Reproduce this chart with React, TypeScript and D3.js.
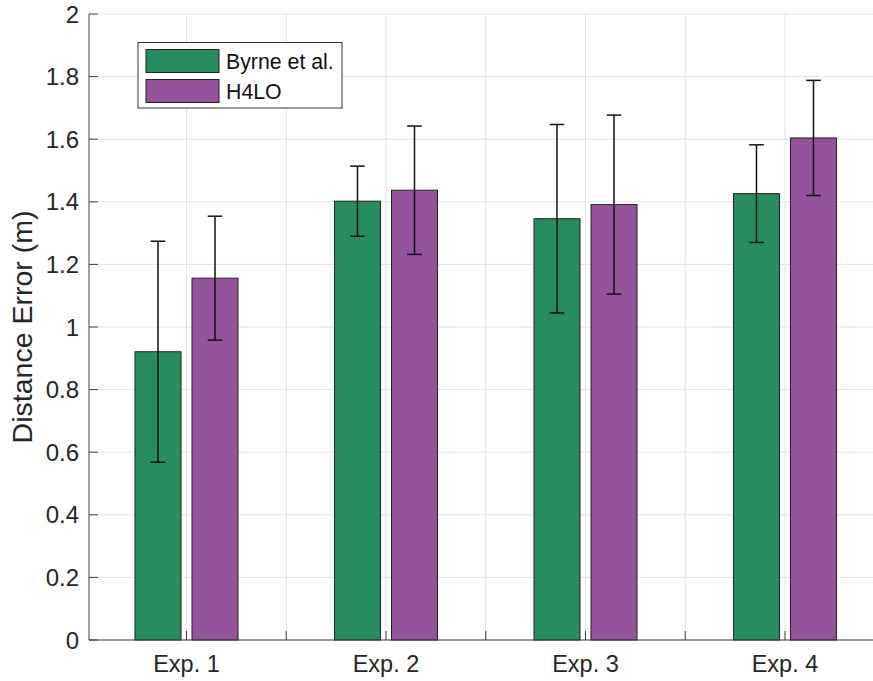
import React from "react";
import * as d3 from "d3";

const categories = ["Exp. 1", "Exp. 2", "Exp. 3", "Exp. 4"];
const seriesNames = ["Byrne et al.", "H4LO"];
const byrneMean = [0.921, 1.402, 1.346, 1.426];
const byrneErr = [0.353, 0.112, 0.301, 0.156];
const h4loMean = [1.156, 1.437, 1.391, 1.604];
const h4loErr = [0.198, 0.205, 0.286, 0.184];
const yTicks = [0, 0.2, 0.4, 0.6, 0.8, 1, 1.2, 1.4, 1.6, 1.8, 2];
const xTicks = [1, 1.5, 2, 2.5, 3, 3.5, 4, 4.5];

const colors = ["#288C61", "#94539A"];
const W = 873;
const H = 681;
const FONT = "'Liberation Sans', Arial, Helvetica, sans-serif";

export default function App() {
  const left = 89;
  const bottom = 640;
  const top = 14;
  const x = d3.scaleLinear().domain([0.5113, 4.5]).range([left, left + 3.9887 * 199.5]);
  const y = d3.scaleLinear().domain([0, 2]).range([bottom, top]);
  const right = x(4.5);

  const offset = 0.1429;
  const barW = 0.2306;
  const capHalf = 7.3;

  const series = [
    { mean: byrneMean, err: byrneErr, color: colors[0], off: -offset },
    { mean: h4loMean, err: h4loErr, color: colors[1], off: offset },
  ];

  const bw = x(1 + barW) - x(1);

  return (
    <svg
      width={W}
      height={H}
      style={{ position: "absolute", left: 0, top: 0, background: "#fff" }}
      fontFamily={FONT}
    >
      <rect x={0} y={0} width={W} height={H} fill="#fff" />
      {/* grid */}
      {yTicks.map((t) => (
        <line key={"gy" + t} x1={left} x2={right} y1={y(t)} y2={y(t)} stroke="#e3e3e3" strokeWidth={1} />
      ))}
      {xTicks.map((t) => (
        <line key={"gx" + t} x1={x(t)} x2={x(t)} y1={top} y2={bottom} stroke="#e3e3e3" strokeWidth={1} />
      ))}
      {/* bars */}
      {series.map((s, si) =>
        s.mean.map((m, i) => {
          const cx = x(i + 1 + s.off);
          return (
            <rect
              key={"b" + si + i}
              x={cx - bw / 2}
              y={y(m)}
              width={bw}
              height={y(0) - y(m)}
              fill={s.color}
              stroke="#222"
              strokeWidth={1}
            />
          );
        })
      )}
      {/* error bars */}
      {series.map((s, si) =>
        s.mean.map((m, i) => {
          const cx = x(i + 1 + s.off);
          const yt = y(m + s.err[i]);
          const yb = y(m - s.err[i]);
          return (
            <g key={"e" + si + i} stroke="#111" strokeWidth={1.5}>
              <line x1={cx} x2={cx} y1={yt} y2={yb} />
              <line x1={cx - capHalf} x2={cx + capHalf} y1={yt} y2={yt} />
              <line x1={cx - capHalf} x2={cx + capHalf} y1={yb} y2={yb} />
            </g>
          );
        })
      )}
      {/* axes */}
      <line x1={left} x2={left} y1={top} y2={bottom} stroke="#404040" strokeWidth={1} />
      <line x1={left} x2={right} y1={bottom} y2={bottom} stroke="#404040" strokeWidth={1} />
      {yTicks.map((t) => (
        <g key={"ty" + t}>
          <line x1={left} x2={left + 9} y1={y(t)} y2={y(t)} stroke="#404040" strokeWidth={1} />
          <text x={left - 10} y={y(t)} dy="0.36em" textAnchor="end" fontSize={24} fill="#262626">
            {String(t)}
          </text>
        </g>
      ))}
      {xTicks.map((t) => (
        <line key={"tx" + t} x1={x(t)} x2={x(t)} y1={bottom} y2={bottom - 9} stroke="#404040" strokeWidth={1} />
      ))}
      {categories.map((c, i) => (
        <text key={"xl" + i} x={x(i + 1)} y={672} textAnchor="middle" fontSize={23.5} fill="#262626">
          {c}
        </text>
      ))}
      <text
        transform={`translate(32, ${(top + bottom) / 2}) rotate(-90)`}
        textAnchor="middle"
        fontSize={28.5}
        fill="#262626"
      >
        Distance Error (m)
      </text>
      {/* legend */}
      <rect x={138} y={42.5} width={204} height={65.5} fill="#fff" stroke="#333" strokeWidth={1} />
      {seriesNames.map((n, i) => (
        <g key={"lg" + i}>
          <rect
            x={146}
            y={49.5 + i * 30}
            width={73}
            height={23}
            fill={colors[i]}
            stroke="#222"
            strokeWidth={1}
          />
          <text x={226} y={61 + i * 30} dy="0.36em" fontSize={21.3} fill="#111">
            {n}
          </text>
        </g>
      ))}
    </svg>
  );
}
